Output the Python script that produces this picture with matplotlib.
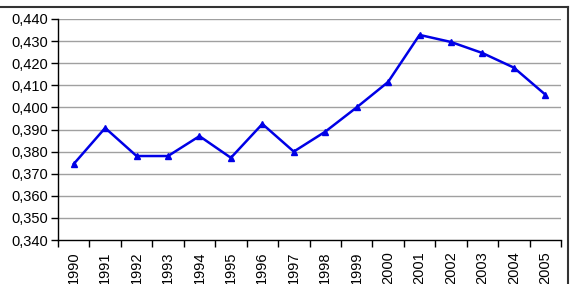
import matplotlib
matplotlib.use("Agg")
import matplotlib.pyplot as plt
from matplotlib.lines import Line2D
import numpy as np

years = ["1990", "1991", "1992", "1993", "1994", "1995", "1996", "1997",
         "1998", "1999", "2000", "2001", "2002", "2003", "2004", "2005"]
values = [0.3744, 0.3907, 0.3780, 0.3780, 0.3870, 0.3772, 0.3925, 0.3800,
          0.3890, 0.4000, 0.4115, 0.4328, 0.4296, 0.4246, 0.4180, 0.4058]
yticks = [0.34, 0.35, 0.36, 0.37, 0.38, 0.39, 0.40, 0.41, 0.42, 0.43, 0.44]

plt.rcParams['font.family'] = ['Liberation Sans', 'DejaVu Sans']

fig = plt.figure(figsize=(5.70, 2.84), dpi=100)
ax = fig.add_axes([58/570, 1-240/284, (561-58)/570, (240-19)/284])

x = np.arange(len(years))
ax.plot(x, values, color='#0000E6', lw=1.8, marker='^', ms=4, mfc='#0000E6', mec='#0000E6')

ax.set_xlim(-0.5, len(years)-0.5)
ax.set_ylim(0.34, 0.44)
ax.set_yticks(yticks)
ax.set_yticklabels([f"{v:.3f}".replace('.', ',') for v in yticks], fontsize=10.5, color='black')
ax.set_xticks(np.arange(-0.5, len(years), 1.0))
ax.set_xticklabels([])
ax.set_xticks(x, minor=True)
ax.set_xticklabels(years, minor=True, rotation=90, fontsize=10.5)
ax.tick_params(axis='x', which='minor', length=0, pad=8)
ax.tick_params(axis='x', which='major', length=5, width=1, color='black', direction='out')
ax.tick_params(axis='y', length=5, width=1, color='black', direction='out', pad=2)

for v in yticks[1:]:
    ax.axhline(v, color='#A0A0A0', lw=1, zorder=0)

for s in ['top', 'right']:
    ax.spines[s].set_visible(False)
for s in ['left', 'bottom']:
    ax.spines[s].set_color('black')
    ax.spines[s].set_linewidth(1)

# outer chart frame (top and right edges visible)
fig.lines.append(Line2D([0, 568/570], [1-6.5/284, 1-6.5/284], transform=fig.transFigure,
                        color='#333333', lw=1.5))
fig.lines.append(Line2D([568/570, 568/570], [0, 1-6.5/284], transform=fig.transFigure,
                        color='#333333', lw=1.5))

fig.savefig("out.png", dpi=100)
